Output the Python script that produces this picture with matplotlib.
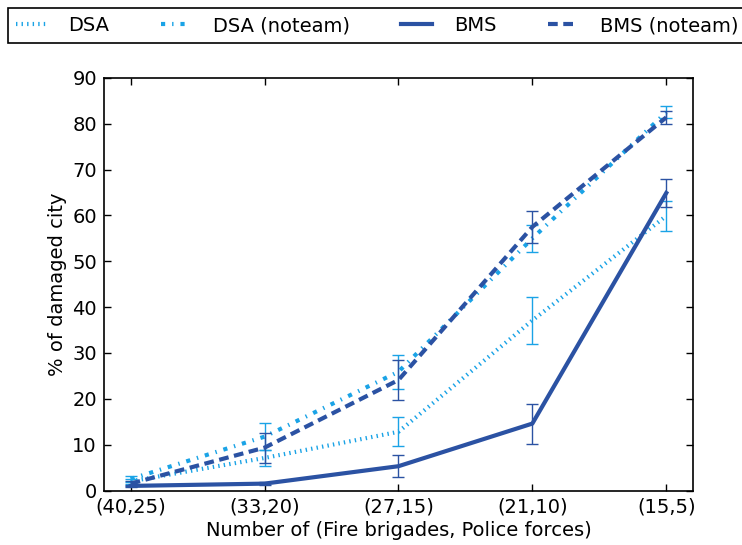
import matplotlib
matplotlib.use("Agg")
import matplotlib.pyplot as plt
import numpy as np

categories = ["(40,25)", "(33,20)", "(27,15)", "(21,10)", "(15,5)"]

dsa = [2.0, 7.1, 12.8, 37.1, 59.9]
dsa_err = [0.5, 1.7, 3.2, 5.2, 3.2]

dsa_noteam = [2.5, 11.75, 25.9, 55.0, 82.5]
dsa_noteam_err = [0.7, 2.95, 3.7, 3.0, 1.3]

bms = [1.0, 1.5, 5.3, 14.6, 64.9]
bms_err = [0.3, 0.3, 2.4, 4.35, 3.0]

bms_noteam = [1.5, 9.35, 24.1, 57.5, 81.4]
bms_noteam_err = [0.5, 3.25, 4.35, 3.45, 1.45]

light = "#1AA3E6"
dark = "#2B52A3"

plt.rcParams["font.family"] = "DejaVu Sans"
plt.rcParams["font.size"] = 14
plt.rcParams["lines.scale_dashes"] = False

fig = plt.figure(figsize=(7.42, 5.45), dpi=100)
ax = fig.add_axes([0.140, 0.100, 0.794, 0.757])

x = np.arange(len(categories))

# dash patterns in points (on, off, ...)
series = [
    ("DSA", dsa, dsa_err, light, (0, (1, 3))),
    ("DSA (noteam)", dsa_noteam, dsa_noteam_err, light, (0, (3, 5, 1, 5))),
    ("BMS", bms, bms_err, dark, "-"),
    ("BMS (noteam)", bms_noteam, bms_noteam_err, dark, (0, (7, 4))),
]

handles = []
for label, vals, err, color, ls in series:
    line, = ax.plot(x, vals, linestyle=ls, color=color, linewidth=3,
                    label=label, dash_capstyle="butt")
    ax.errorbar(x, vals, yerr=err, fmt="none", ecolor=color, elinewidth=1,
                capsize=4, capthick=1)
    handles.append(line)

ax.set_xlim(-0.2, 4.2)
ax.set_ylim(0, 90)
ax.set_yticks(np.arange(0, 91, 10))
ax.set_xticks(x)
ax.set_xticklabels(categories)
ax.tick_params(direction="in", top=True, right=True, length=5, width=1,
               labelsize=14, pad=5)
for sp in ax.spines.values():
    sp.set_linewidth(1.2)

ax.set_xlabel("Number of (Fire brigades, Police forces)", fontsize=14, labelpad=3)
ax.set_ylabel("% of damaged city", fontsize=14)

leg = fig.legend(handles=handles, labels=[s[0] for s in series],
                 loc="lower left", bbox_to_anchor=(0.011, 0.921, 0.995, 0.062),
                 ncol=4, mode="expand", borderaxespad=0, fancybox=False,
                 framealpha=1, edgecolor="black", fontsize=14,
                 handlelength=1.55, handletextpad=1.15, borderpad=0.4)
leg.get_frame().set_linewidth(1.2)

fig.savefig("out.png", dpi=100, facecolor="white")
